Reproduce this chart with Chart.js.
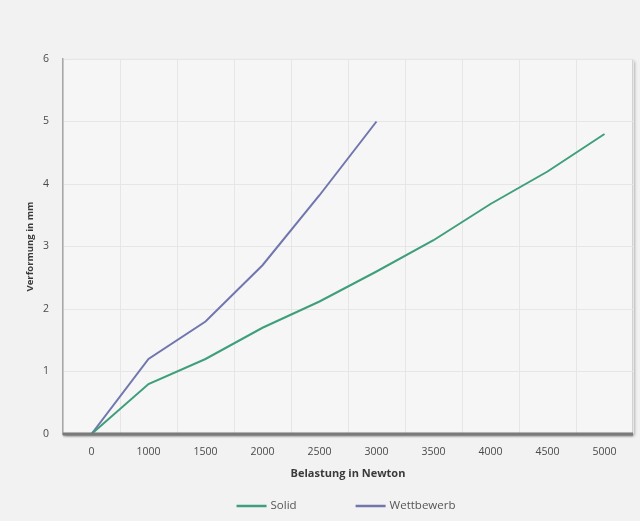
<!DOCTYPE html>
<html>
<head>
<meta charset="utf-8">
<script src="https://cdn.jsdelivr.net/npm/chart.js@4/dist/chart.umd.min.js"></script>
<style>
  html, body { margin: 0; padding: 0; background: #f2f2f2; }
  #wrap { width: 640px; height: 521px; }
</style>
</head>
<body>
<div id="wrap"><canvas id="chart"></canvas></div>
<script>
// values
const loads = ['0', '1000', '1500', '2000', '2500', '3000', '3500', '4000', '4500', '5000'];
const solid = [0, 0.8, 1.2, 1.7, 2.12, 2.6, 3.1, 3.68, 4.2, 4.8];
const wettbewerb = [0, 1.2, 1.8, 2.7, 3.82, 5.0];
const yTicks = [0, 1, 2, 3, 4, 5, 6];

const font = "'Open Sans', 'Liberation Sans', sans-serif";

// plot-area box with soft shadow, as in the original
const plotBox = {
    id: 'plotBox',
    beforeDraw(chart) {
        const { ctx, chartArea: a } = chart;
        ctx.save();
        ctx.shadowColor = 'rgba(0,0,0,0.35)';
        ctx.shadowBlur = 3;
        ctx.shadowOffsetX = 1.5;
        ctx.shadowOffsetY = 1.5;
        ctx.fillStyle = '#f6f6f6';
        ctx.fillRect(a.left, a.top, a.width, a.height);
        ctx.restore();
        ctx.save();
        ctx.strokeStyle = '#d2d2d2';
        ctx.lineWidth = 1;
        ctx.strokeRect(a.left + 0.5, a.top + 0.5, a.width - 1, a.height - 1);
        ctx.restore();
    },
    afterDatasetsDraw(chart) {
        const { ctx, chartArea: a } = chart;
        ctx.save();
        ctx.shadowColor = 'rgba(0,0,0,0.3)';
        ctx.shadowBlur = 2;
        ctx.shadowOffsetY = 1;
        ctx.strokeStyle = '#7a7a7a';
        ctx.lineWidth = 3;
        ctx.beginPath();
        ctx.moveTo(a.left, a.bottom);
        ctx.lineTo(a.right, a.bottom);
        ctx.stroke();
        ctx.restore();
    }
};

// legend drawn under the axis title, spaced wide like the original
const wideLegend = {
    id: 'wideLegend',
    afterDraw(chart) {
        const { ctx, chartArea: a } = chart;
        const sets = chart.data.datasets;
        const lineLen = 30, textGap = 4, itemGap = 59, y = 506;
        ctx.save();
        ctx.font = '11.5px ' + font;
        ctx.textBaseline = 'middle';
        const widths = sets.map(d => lineLen + textGap + ctx.measureText(d.label).width);
        const total = widths.reduce((s, w) => s + w, 0) + itemGap * (sets.length - 1);
        let x = (a.left + a.right) / 2 - 2 - total / 2;
        sets.forEach((d, i) => {
            ctx.strokeStyle = d.borderColor;
            ctx.lineWidth = 2.5;
            ctx.beginPath();
            ctx.moveTo(x, y);
            ctx.lineTo(x + lineLen, y);
            ctx.stroke();
            ctx.fillStyle = '#555';
            ctx.fillText(d.label, x + lineLen + textGap, y);
            x += widths[i] + itemGap;
        });
        ctx.restore();
    }
};

new Chart(document.getElementById('chart'), {
    type: 'line',
    data: {
        labels: loads,
        datasets: [{
            label: 'Solid',
            data: solid,
            borderColor: '#3f9f7a',
            backgroundColor: '#3f9f7a',
            borderWidth: 2,
            pointRadius: 0,
            tension: 0
        }, {
            label: 'Wettbewerb',
            data: wettbewerb,
            borderColor: '#7177ae',
            backgroundColor: '#7177ae',
            borderWidth: 2,
            pointRadius: 0,
            tension: 0
        }]
    },
    options: {
        responsive: true,
        maintainAspectRatio: false,
        animation: false,
        layout: { padding: { left: 25, right: 7, top: 59, bottom: 41 } },
        plugins: {
            tooltip: { enabled: false },
            legend: { display: false }
        },
        scales: {
            x: {
                offset: true,
                grid: { offset: true, color: '#e6e6e6', drawTicks: false },
                border: { display: false },
                ticks: { color: '#4a4a4a', padding: 12, maxRotation: 0, font: { family: font, size: 10.5 } },
                title: {
                    display: true,
                    text: 'Belastung in Newton',
                    color: '#3a3a3a',
                    padding: { top: 0, bottom: 0 },
                    font: { family: font, size: 11, weight: 'bold' }
                },
                afterFit: s => { s.height = 46; }
            },
            y: {
                min: 0,
                max: 6,
                afterBuildTicks: axis => { axis.ticks = yTicks.map(v => ({ value: v })); },
                grid: { color: '#e6e6e6', drawTicks: false },
                border: { color: '#a8a8a8', width: 1.5 },
                ticks: { color: '#4a4a4a', padding: 14, font: { family: font, size: 10.5 } },
                title: {
                    display: true,
                    text: 'Verformung in mm',
                    color: '#3a3a3a',
                    padding: { top: 0, bottom: 0 },
                    font: { family: font, size: 9.5, weight: 'bold' }
                },
                afterFit: s => { s.width = 38; }
            }
        }
    },
    plugins: [plotBox, wideLegend]
});
</script>
</body>
</html>
